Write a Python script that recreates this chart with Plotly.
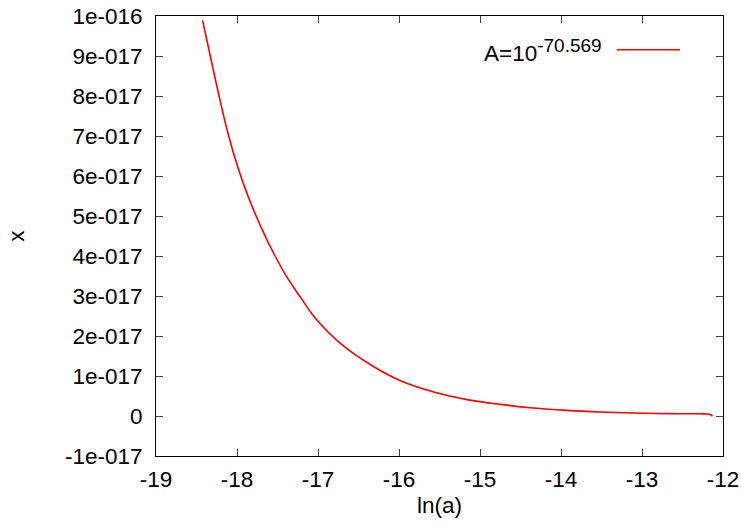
import plotly.graph_objects as go

# ln(a) samples and x values (in units of 1e-17)
ln_a = [-18.425, -18.33, -18.227, -18.116, -17.99, -17.857, -17.69, -17.53,
        -17.38, -17.20, -17.05, -16.72, -16.31, -15.99, -15.57, -15.16, -14.75,
        -14.34, -13.93, -13.52, -13.10, -12.69, -12.28, -12.20, -12.16, -12.13]
x_e17 = [9.89, 9.0, 8.05, 7.1, 6.22, 5.46, 4.66, 4.0,
         3.46, 2.92, 2.49, 1.81, 1.23, 0.89, 0.60, 0.41, 0.29,
         0.20, 0.14, 0.10, 0.075, 0.06, 0.055, 0.05, 0.035, 0.0]
SCALE = 1e-17

x_ticks = [-19, -18, -17, -16, -15, -14, -13, -12]
y_tick_units = list(range(-1, 11))
y_tick_text = ["-1e-017", "0", "1e-017", "2e-017", "3e-017", "4e-017", "5e-017",
               "6e-017", "7e-017", "8e-017", "9e-017", "1e-016"]
series_label = 'A=10<sup><span style="font-size:19px">-70.569</span></sup>'

FONT = "Liberation Sans, Arial, sans-serif"
FS = 22.5
W, H = 742, 527
L, R, T, B = 156, 19, 16, 71
pw = W - L - R
ph = H - T - B

fig = go.Figure()
fig.add_trace(go.Scatter(
    x=ln_a, y=[v * SCALE for v in x_e17], mode="lines",
    line=dict(color="#ff0000", width=1.6, shape="spline", smoothing=1.0),
    name="A=10^-70.569", showlegend=False,
))

axis_common = dict(
    showgrid=False, zeroline=False, showline=True, linecolor="black", linewidth=1,
    mirror="ticks", ticks="inside", ticklen=7, tickcolor="#444444", tickwidth=1,
    automargin=False,
    tickfont=dict(family=FONT, size=FS, color="black"),
)

fig.update_xaxes(range=[-19, -12], tickvals=x_ticks, ticktext=[str(t) for t in x_ticks],
                 ticklabelstandoff=3,
                 title=dict(text="ln(a)", font=dict(family=FONT, size=FS, color="black"),
                            standoff=6),
                 **axis_common)
fig.update_yaxes(range=[-1e-17, 1e-16], tickvals=[u * SCALE for u in y_tick_units],
                 ticktext=y_tick_text, ticklabelstandoff=8,
                 title=dict(text="x", font=dict(family=FONT, size=FS, color="black"),
                            standoff=34),
                 **axis_common)

# key: label on the left, line sample on the right
key_y = 1 - (49.7 - T) / ph
fig.add_annotation(xref="paper", yref="paper", x=(603.5 - L) / pw, y=1 - (50 - T) / ph,
                   xanchor="right", yanchor="middle", showarrow=False,
                   text=series_label, font=dict(family=FONT, size=FS, color="black"))
fig.add_shape(type="line", xref="paper", yref="paper",
              x0=(616.7 - L) / pw, x1=(680 - L) / pw, y0=key_y, y1=key_y,
              line=dict(color="#ff0000", width=1.6))

fig.update_layout(
    width=W, height=H, margin=dict(l=L, r=R, t=T, b=B),
    paper_bgcolor="white", plot_bgcolor="white",
    font=dict(family=FONT, size=FS, color="black"),
)
fig.write_html("out.html")
